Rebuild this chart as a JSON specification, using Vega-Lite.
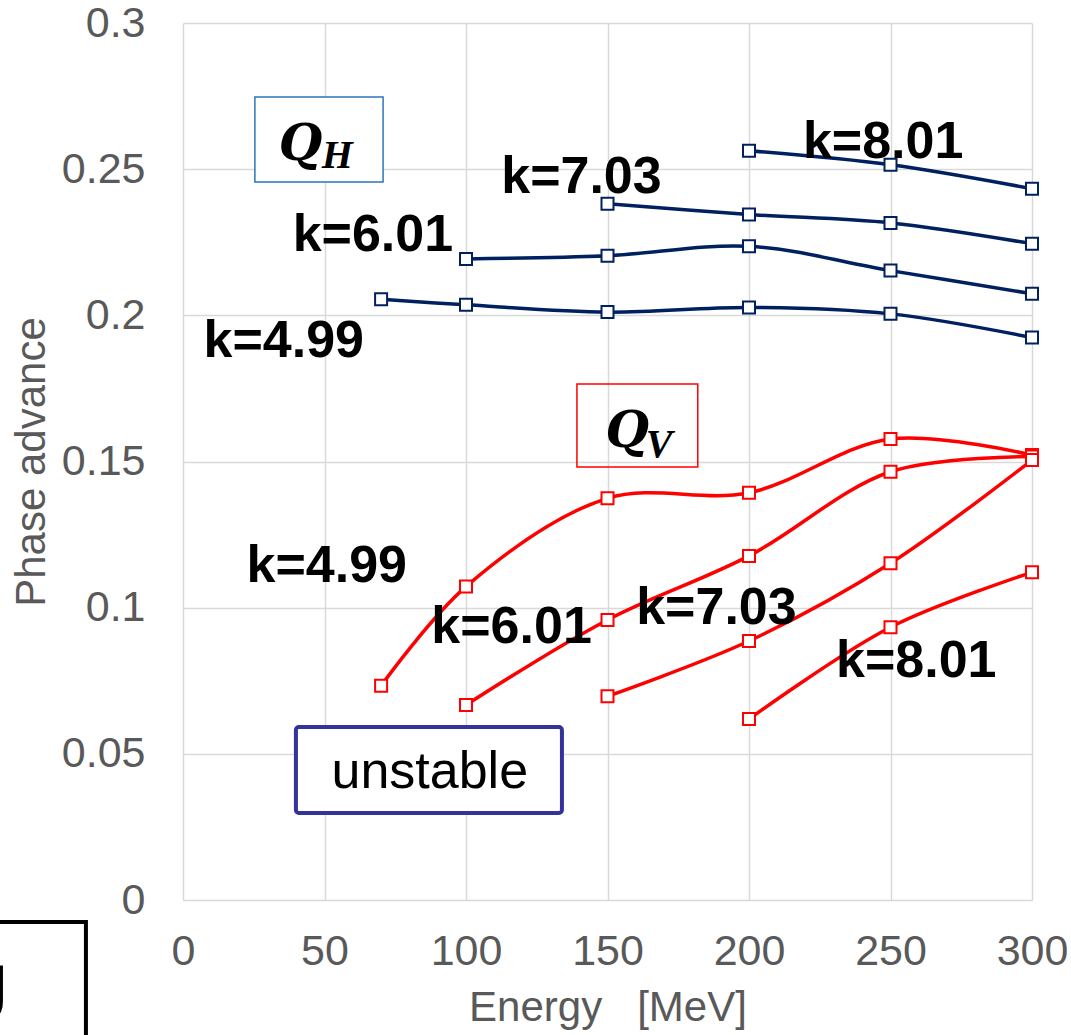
{
  "$schema": "https://vega.github.io/schema/vega-lite/v6.json",
  "width": 849,
  "height": 877,
  "autosize": "none",
  "padding": {"left": 183, "top": 23, "right": 39, "bottom": 135},
  "background": "white",
  "config": {
    "view": {"stroke": null},
    "font": "Liberation Sans",
    "axis": {
      "grid": true, "gridColor": "#D9D9D9", "gridWidth": 1.5,
      "domain": false, "ticks": false, "labelFlush": false,
      "labelColor": "#595959", "labelFont": "Liberation Sans", "labelFontSize": 43,
      "titleColor": "#595959", "titleFont": "Liberation Sans", "titleFontSize": 42, "titleFontWeight": "normal"
    }
  },
  "datasets": {
    "series": [
      {"g": "H", "s": "H4.99", "E": 70, "v": 0.2055},
      {"g": "H", "s": "H4.99", "E": 100, "v": 0.2036},
      {"g": "H", "s": "H4.99", "E": 150, "v": 0.2011},
      {"g": "H", "s": "H4.99", "E": 200, "v": 0.2027},
      {"g": "H", "s": "H4.99", "E": 250, "v": 0.2005},
      {"g": "H", "s": "H4.99", "E": 300, "v": 0.1924},
      {"g": "H", "s": "H6.01", "E": 100, "v": 0.2193},
      {"g": "H", "s": "H6.01", "E": 150, "v": 0.2204},
      {"g": "H", "s": "H6.01", "E": 200, "v": 0.2236},
      {"g": "H", "s": "H6.01", "E": 250, "v": 0.2153},
      {"g": "H", "s": "H6.01", "E": 300, "v": 0.2074},
      {"g": "H", "s": "H7.03", "E": 150, "v": 0.2382},
      {"g": "H", "s": "H7.03", "E": 200, "v": 0.2345},
      {"g": "H", "s": "H7.03", "E": 250, "v": 0.2316},
      {"g": "H", "s": "H7.03", "E": 300, "v": 0.2245},
      {"g": "H", "s": "H8.01", "E": 200, "v": 0.2563},
      {"g": "H", "s": "H8.01", "E": 250, "v": 0.2515},
      {"g": "H", "s": "H8.01", "E": 300, "v": 0.2433},
      {"g": "V", "s": "V4.99", "E": 70, "v": 0.0733},
      {"g": "V", "s": "V4.99", "E": 100, "v": 0.1072},
      {"g": "V", "s": "V4.99", "E": 150, "v": 0.1374},
      {"g": "V", "s": "V4.99", "E": 200, "v": 0.1393},
      {"g": "V", "s": "V4.99", "E": 250, "v": 0.1577},
      {"g": "V", "s": "V4.99", "E": 300, "v": 0.1522},
      {"g": "V", "s": "V6.01", "E": 100, "v": 0.0667},
      {"g": "V", "s": "V6.01", "E": 150, "v": 0.0958},
      {"g": "V", "s": "V6.01", "E": 200, "v": 0.1177},
      {"g": "V", "s": "V6.01", "E": 250, "v": 0.1465},
      {"g": "V", "s": "V6.01", "E": 300, "v": 0.1517},
      {"g": "V", "s": "V7.03", "E": 150, "v": 0.0697},
      {"g": "V", "s": "V7.03", "E": 200, "v": 0.0886},
      {"g": "V", "s": "V7.03", "E": 250, "v": 0.1152},
      {"g": "V", "s": "V7.03", "E": 300, "v": 0.1505},
      {"g": "V", "s": "V8.01", "E": 200, "v": 0.0619},
      {"g": "V", "s": "V8.01", "E": 250, "v": 0.0933},
      {"g": "V", "s": "V8.01", "E": 300, "v": 0.1121}
    ],
    "klabels": [
      {"x": 247.4, "y": 0.2593, "t": "k=8.01"},
      {"x": 140.8, "y": 0.2473, "t": "k=7.03"},
      {"x": 67.1, "y": 0.2275, "t": "k=6.01"},
      {"x": 35.6, "y": 0.1912, "t": "k=4.99"},
      {"x": 50.8, "y": 0.1143, "t": "k=4.99"},
      {"x": 116.1, "y": 0.0934, "t": "k=6.01"},
      {"x": 188.5, "y": 0.0999, "t": "k=7.03"},
      {"x": 259.1, "y": 0.0818, "t": "k=8.01"}
    ]
  },
  "layer": [
    {
      "data": {"values": [{"x": 25.4, "x2": 70.7, "y": 0.2747, "y2": 0.2456}]},
      "mark": {"type": "rect", "fill": "white", "stroke": "#2E75B6", "strokeWidth": 1.5},
      "encoding": {
        "x": {"field": "x", "type": "quantitative", "scale": {"domain": [0, 300]}},
        "x2": {"field": "x2"},
        "y": {"field": "y", "type": "quantitative", "scale": {"domain": [0, 0.3]}},
        "y2": {"field": "y2"}
      }
    },
    {
      "data": {"values": [{"x": 139.2, "x2": 181.9, "y": 0.1765, "y2": 0.1481}]},
      "mark": {"type": "rect", "fill": "white", "fillOpacity": 0, "stroke": "#FF0000", "strokeWidth": 1.5},
      "encoding": {
        "x": {"field": "x", "type": "quantitative"},
        "x2": {"field": "x2"},
        "y": {"field": "y", "type": "quantitative"},
        "y2": {"field": "y2"}
      }
    },
    {
      "data": {"values": [{"x": 39.9, "x2": 133.9, "y": 0.0592, "y2": 0.0298}]},
      "mark": {"type": "rect", "fill": "white", "stroke": "#333399", "strokeWidth": 4, "cornerRadius": 3},
      "encoding": {
        "x": {"field": "x", "type": "quantitative"},
        "x2": {"field": "x2"},
        "y": {"field": "y", "type": "quantitative"},
        "y2": {"field": "y2"}
      }
    },
    {
      "data": {"values": [{"x": -80, "x2": -34.3, "y": -0.0075, "y2": -0.06}]},
      "mark": {"type": "rect", "fill": "white", "stroke": "black", "strokeWidth": 4},
      "encoding": {
        "x": {"field": "x", "type": "quantitative"},
        "x2": {"field": "x2"},
        "y": {"field": "y", "type": "quantitative"},
        "y2": {"field": "y2"}
      }
    },
    {
      "data": {"values": [{"x": -61.8, "y": -0.0424, "t": "U"}]},
      "mark": {"type": "text", "align": "right", "baseline": "alphabetic", "fontSize": 85, "fontWeight": "bold", "font": "Liberation Sans", "color": "black"},
      "encoding": {
        "x": {"field": "x", "type": "quantitative"},
        "y": {"field": "y", "type": "quantitative"},
        "text": {"field": "t"}
      }
    },
    {
      "data": {"name": "series"},
      "mark": {"type": "line", "interpolate": "catmull-rom", "strokeWidth": 3.5},
      "encoding": {
        "x": {"field": "E", "type": "quantitative", "scale": {"domain": [0, 300]},
          "axis": {"values": [0, 50, 100, 150, 200, 250, 300], "labelPadding": 30, "title": "Energy\u00a0\u00a0\u00a0[MeV]", "titlePadding": 14}},
        "y": {"field": "v", "type": "quantitative", "scale": {"domain": [0, 0.3]},
          "axis": {"values": [0, 0.05, 0.1, 0.15, 0.2, 0.25, 0.3], "labelExpr": "format(datum.value, '.2~f')", "labelPadding": 38, "title": "Phase advance", "titlePadding": 8}},
        "detail": {"field": "s"},
        "color": {"field": "g", "type": "nominal", "scale": {"domain": ["H", "V"], "range": ["#002060", "#FF0000"]}, "legend": null}
      }
    },
    {
      "data": {"name": "series"},
      "mark": {"type": "point", "shape": "square", "filled": false, "fill": "white", "fillOpacity": 1, "size": 144, "strokeWidth": 2, "opacity": 1},
      "encoding": {
        "x": {"field": "E", "type": "quantitative"},
        "y": {"field": "v", "type": "quantitative"},
        "stroke": {"field": "g", "type": "nominal", "scale": {"domain": ["H", "V"], "range": ["#002060", "#FF0000"]}, "legend": null}
      }
    },
    {
      "data": {"name": "klabels"},
      "mark": {"type": "text", "align": "center", "baseline": "middle", "fontSize": 52, "fontWeight": "bold", "font": "Liberation Sans", "color": "black"},
      "encoding": {
        "x": {"field": "x", "type": "quantitative"},
        "y": {"field": "y", "type": "quantitative"},
        "text": {"field": "t"}
      }
    },
    {
      "data": {"values": [{"x": 87.2, "y": 0.0438, "t": "unstable"}]},
      "mark": {"type": "text", "align": "center", "baseline": "middle", "fontSize": 52, "font": "Liberation Sans", "color": "black"},
      "encoding": {
        "x": {"field": "x", "type": "quantitative"},
        "y": {"field": "y", "type": "quantitative"},
        "text": {"field": "t"}
      }
    },
    {
      "data": {"values": [{"x": 41.5, "y": 0.2531, "t": "Q"}, {"x": 157.0, "y": 0.1550, "t": "Q"}]},
      "mark": {"type": "text", "align": "center", "baseline": "alphabetic", "fontSize": 50, "fontWeight": "bold", "fontStyle": "italic", "font": "DejaVu Serif", "color": "black"},
      "encoding": {
        "x": {"field": "x", "type": "quantitative"},
        "y": {"field": "y", "type": "quantitative"},
        "text": {"field": "t"}
      }
    },
    {
      "data": {"values": [{"x": 54.5, "y": 0.2504, "t": "H"}, {"x": 168.2, "y": 0.1515, "t": "V"}]},
      "mark": {"type": "text", "align": "center", "baseline": "alphabetic", "fontSize": 40, "fontWeight": "bold", "fontStyle": "italic", "font": "Liberation Serif", "color": "black"},
      "encoding": {
        "x": {"field": "x", "type": "quantitative"},
        "y": {"field": "y", "type": "quantitative"},
        "text": {"field": "t"}
      }
    }
  ]
}
